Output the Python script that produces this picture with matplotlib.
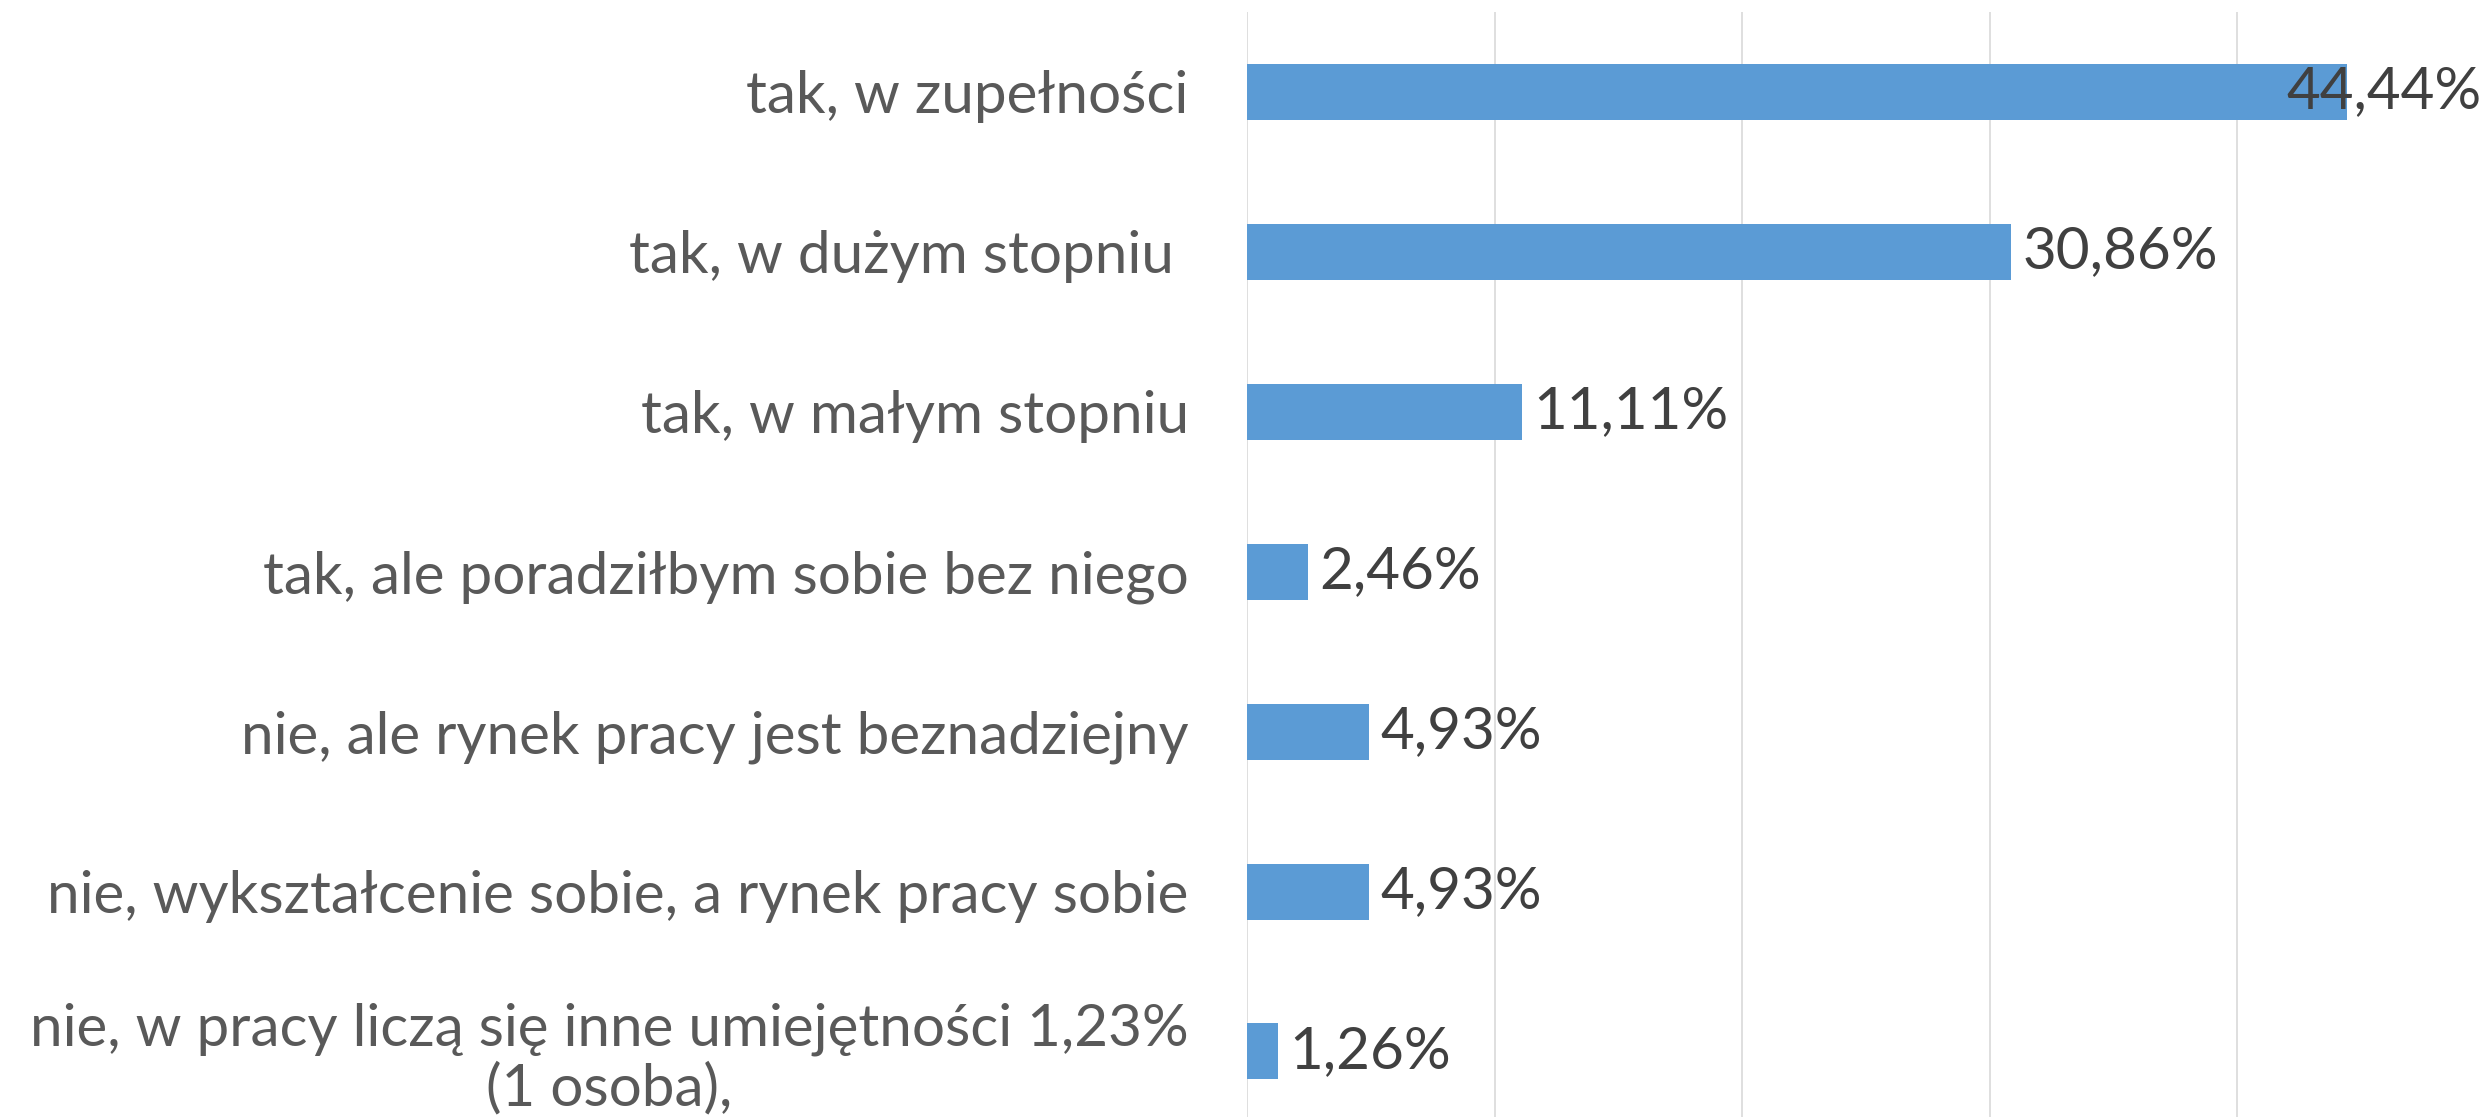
import matplotlib.pyplot as plt
from matplotlib.ticker import MultipleLocator

# odpowiedzi i udziały (%)
categories = [
    "tak, w zupełności",
    "tak, w dużym stopniu ",
    "tak, w małym stopniu",
    "tak, ale poradziłbym sobie bez niego",
    "nie, ale rynek pracy jest beznadziejny",
    "nie, wykształcenie sobie, a rynek pracy sobie",
    "nie, w pracy liczą się inne umiejętności 1,23%\n(1 osoba),",
]
values = [44.44, 30.86, 11.11, 2.46, 4.93, 4.93, 1.26]

BAR_COLOR = "#5B9BD5"
XMAX = 50

plt.rcParams['font.family'] = ['Lato', 'DejaVu Sans']

fig = plt.figure(figsize=(24.79, 11.17), dpi=100)
ax = fig.add_axes([1247 / 2479, 0.0, 1238 / 2479, 1 - 12 / 1117])

pos = list(range(len(categories)))
ax.barh(pos, values, height=0.35, color=BAR_COLOR, zorder=3)

ax.set_xlim(0, XMAX)
ax.set_ylim(6.41, -0.5)
ax.xaxis.set_major_locator(MultipleLocator(10))
ax.grid(axis='x', color='#D9D9D9', linewidth=1.2, zorder=0)
ax.set_axisbelow(True)
for s in ax.spines.values():
    s.set_visible(False)
ax.tick_params(axis='both', length=0)
ax.set_xticklabels([])
ax.set_yticks(pos)
ax.set_yticklabels(categories, fontsize=42, color='#595959',
                   multialignment='center', linespacing=1.12)
ax.tick_params(axis='y', pad=42)

# etykiety wartości
for y, v in zip(pos, values):
    txt = f"{v:.2f}%".replace('.', ',')
    if v > XMAX - 8:
        ax.text(XMAX - 0.15, y, txt, ha='right', va='center', fontsize=42, color='#404040', zorder=4)
    else:
        ax.text(v + 0.45, y, txt, ha='left', va='center', fontsize=42, color='#404040', zorder=4)

fig.savefig("out.png", dpi=100)
